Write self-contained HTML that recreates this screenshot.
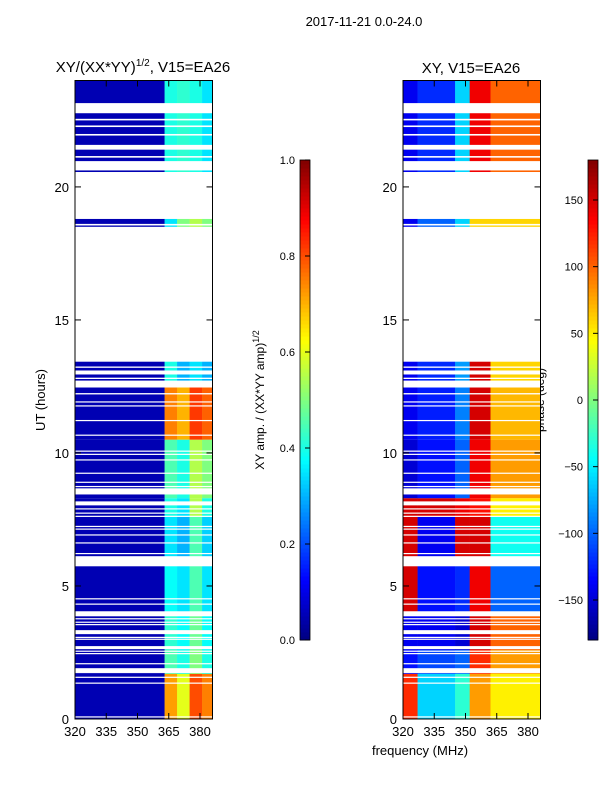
<!DOCTYPE html>
<html><head><meta charset="utf-8">
<style>
body{margin:0;background:#fff;}
svg text{font-family:"Liberation Sans","DejaVu Sans",sans-serif;fill:#000;}
</style></head>
<body>
<svg id="fig" width="600" height="800" xmlns="http://www.w3.org/2000/svg">
<text x="364" y="26" font-size="13" text-anchor="middle">2017-11-21 0.0-24.0</text>
<text x="143" y="72" font-size="15" text-anchor="middle">XY/(XX*YY)<tspan font-size="10" dy="-6">1/2</tspan><tspan dy="6">, V15=EA26</tspan></text>
<text x="471" y="73" font-size="15" text-anchor="middle">XY, V15=EA26</text>
<text transform="translate(45,400) rotate(-90)" font-size="13" text-anchor="middle">UT (hours)</text>
<text x="420" y="755" font-size="13" text-anchor="middle">frequency (MHz)</text>
<text transform="translate(264,400) rotate(-90)" font-size="12" text-anchor="middle">XY amp. / (XX*YY amp)<tspan font-size="9" dy="-5">1/2</tspan></text>
<text transform="translate(544,400) rotate(-90)" font-size="12" text-anchor="middle">phase (deg)</text>
<g id="left"></g>
<g id="right"></g>
<g id="cb1"></g>
<g id="cb2"></g>
</svg>
<script>
// ---- data ----
const timeSegments = [[0,1.7],[1.7,2.6],[2.6,4.0],[4.0,5.8],[5.8,7.6],[7.6,8.3],[8.3,10.5],[10.5,12.5],[12.5,13.45],[18.45,18.8],[20.55,24]];
const ampBands = [[320,363],[363,369],[369,375],[375,381],[381,386]];
const ampValues = [
 [0.05,0.72,0.6,0.8,0.75],
 [0.05,0.45,0.4,0.5,0.4],
 [0.05,0.42,0.38,0.48,0.38],
 [0.05,0.38,0.35,0.45,0.35],
 [0.05,0.35,0.3,0.45,0.33],
 [0.05,0.4,0.35,0.55,0.4],
 [0.05,0.45,0.4,0.55,0.5],
 [0.05,0.75,0.7,0.82,0.78],
 [0.05,0.4,0.3,0.35,0.3],
 [0.05,0.35,0.5,0.55,0.5],
 [0.05,0.4,0.42,0.4,0.35]
];
const phaseBands = [[320,327],[327,345],[345,352],[352,362],[362,386]];
const phaseValues = [
 [120,-60,-30,80,50],
 [-130,-110,-100,120,80],
 [-140,-140,-150,150,100],
 [150,-130,-120,140,-100],
 [150,-140,150,150,-40],
 [150,150,140,130,50],
 [-150,-130,-100,140,80],
 [-140,-125,-90,150,70],
 [-140,-120,-80,150,60],
 [-140,-100,-60,60,60],
 [-140,-120,-60,140,100]
];
const gaps = [[22.77,23.15],[22.5,22.56],[22.25,22.31],[21.93,21.99],[21.4,21.58],[21.1,21.16],[20.62,20.97],[18.8,20.56],[18.55,18.61],[18.45,18.5],[13.43,18.46],[13.2,13.25],[12.95,13.1],[12.78,12.83],[12.46,12.72],[12.2,12.25],
 [11.9,11.94],[11.75,11.79],[11.2,11.24],[10.65,10.69],[10.05,10.09],[9.93,9.97],[9.72,9.76],[9.22,9.26],[8.88,8.92],[8.72,8.76],[8.44,8.67],[8.03,8.18],[7.88,7.92],[7.72,7.76],[7.6,7.64],[7.22,7.26],[7.12,7.16],[6.9,6.94],[6.6,6.64],[6.2,6.24],[5.74,6.12],
 [4.5,4.54],[4.3,4.34],[3.86,4.05],[3.75,3.79],[3.62,3.66],[3.53,3.57],[3.19,3.34],[3.05,3.09],[2.98,3.02],[2.63,2.74],[2.53,2.57],[2.44,2.48],[2.06,2.1],[1.73,1.91],[1.55,1.59],[1.33,1.37],[0.06,0.1]
];
const yTicks = [0,5,10,15,20];
const xTicks = [320,335,350,365,380];
const ampTicks = [0.0,0.2,0.4,0.6,0.8,1.0];
const phaseTicks = [-150,-100,-50,0,50,100,150];

// ---- helpers ----
const NS="http://www.w3.org/2000/svg";
function jet(t){t=Math.max(0,Math.min(1,t));
 const r=Math.max(0,Math.min(1,1.5-Math.abs(4*t-3)));
 const g=Math.max(0,Math.min(1,1.5-Math.abs(4*t-2)));
 const b=Math.max(0,Math.min(1,1.5-Math.abs(4*t-1)));
 return `rgb(${Math.round(r*255)},${Math.round(g*255)},${Math.round(b*255)})`;}
function el(tag,attrs,parent){const e=document.createElementNS(NS,tag);for(const k in attrs)e.setAttribute(k,attrs[k]);parent.appendChild(e);return e;}
const Y0=719,Y1=80.5;
const yScale=h=>Y0-(h/24)*(Y0-Y1);
function panel(gid,x0,bands,values,norm,nameTag){
 const g=document.getElementById(gid);
 const xs=f=>x0+(f-320)/(386-320)*137.5;
 timeSegments.forEach((s,i)=>{
  bands.forEach((b,j)=>{
   const r=el('rect',{x:xs(b[0]),y:yScale(s[1]),width:xs(b[1])-xs(b[0])+0.3,height:yScale(s[0])-yScale(s[1]),fill:jet(norm(values[i][j]))},g);
   
   
  });
 });
 gaps.forEach(gp=>{
  const r=el('rect',{x:x0,y:yScale(gp[1]),width:137.5,height:Math.max(1.2,yScale(gp[0])-yScale(gp[1])),fill:'#fff'},g);
  
  
 });
 const fr=el('rect',{x:x0,y:Y1,width:137.5,height:Y0-Y1,fill:'none',stroke:'#000','stroke-width':1},g);
 
 
 yTicks.forEach(t=>{const y=yScale(t);
  el('line',{x1:x0,x2:x0+6,y1:y,y2:y,stroke:'#000'},g);
  el('line',{x1:x0+131.5,x2:x0+137.5,y1:y,y2:y,stroke:'#000'},g);
  const tx=el('text',{x:x0-6,y:y+5,'font-size':13,'text-anchor':'end'},g);tx.textContent=t;
  
  
 });
 xTicks.forEach(t=>{const x=xs(t);
  el('line',{x1:x,x2:x,y1:Y0,y2:Y0-6,stroke:'#000'},g);
  el('line',{x1:x,x2:x,y1:Y1,y2:Y1+6,stroke:'#000'},g);
  const tx=el('text',{x:x,y:Y0+17,'font-size':13,'text-anchor':'middle'},g);tx.textContent=t;
  
  
 });
}
panel('left',75,ampBands,ampValues,v=>v,'amp');
panel('right',403,phaseBands,phaseValues,v=>(v+180)/360,'phase');

function colorbar(gid,x0,vmin,vmax,ticks,fmt){
 const g=document.getElementById(gid);const top=160,bot=640,n=120;
 for(let i=0;i<n;i++){el('rect',{x:x0,y:bot-(i+1)*(bot-top)/n,width:10,height:(bot-top)/n+0.5,fill:jet((i+0.5)/n)},g);}
 el('rect',{x:x0,y:top,width:10,height:bot-top,fill:'none',stroke:'#000','stroke-width':0.8},g);
 ticks.forEach(t=>{const y=bot-(t-vmin)/(vmax-vmin)*(bot-top);
  el('line',{x1:x0+5,x2:x0+10,y1:y,y2:y,stroke:'#000'},g);
  const tx=el('text',{x:x0-5,y:y+4,'font-size':11,'text-anchor':'end'},g);tx.textContent=fmt(t);
  
  
 });
}
colorbar('cb1',300,0,1,ampTicks,t=>t.toFixed(1));
colorbar('cb2',588,-180,180,phaseTicks,t=>t<0?'\u2212'+Math.abs(t):String(t));
</script>
</body></html>
